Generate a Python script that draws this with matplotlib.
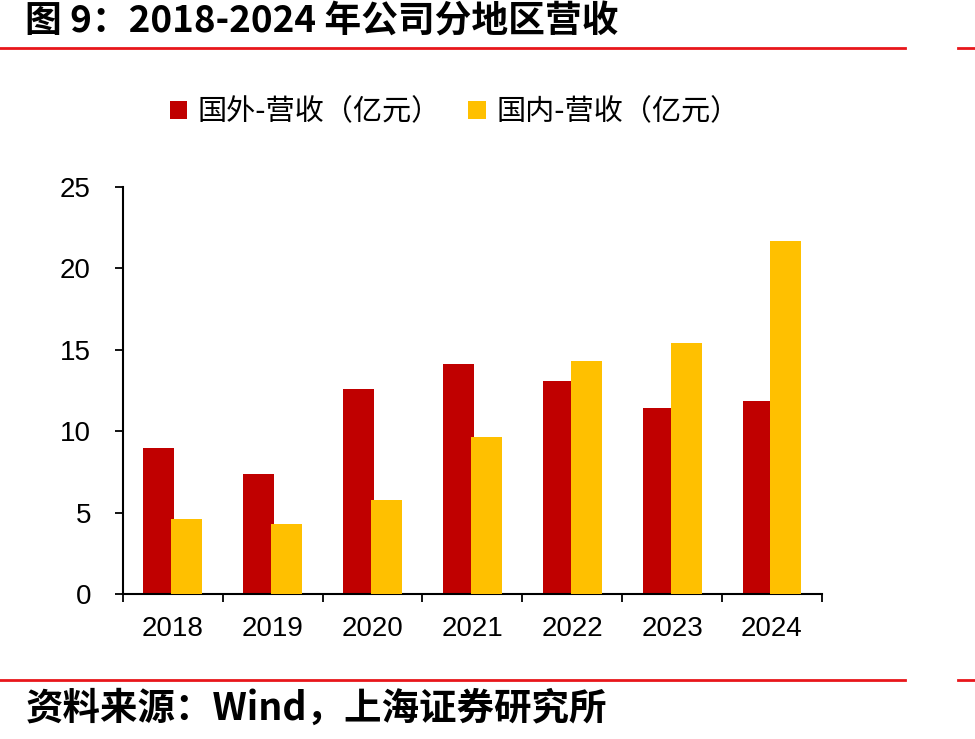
import numpy as np
import matplotlib
matplotlib.use("Agg")
import matplotlib.pyplot as plt
from matplotlib.lines import Line2D
from matplotlib.patches import Patch

plt.rcParams['font.family'] = ['Noto Sans CJK SC', 'DejaVu Sans']

# Data
years = ['2018', '2019', '2020', '2021', '2022', '2023', '2024']
overseas = [8.99, 7.39, 12.58, 14.13, 13.07, 11.42, 11.87]
domestic = [4.62, 4.31, 5.78, 9.64, 14.30, 15.40, 21.71]
series_names = ['国外-营收（亿元）', '国内-营收（亿元）']
title_text = '图 9：2018-2024 年公司分地区营收'
source_text = '资料来源：Wind，上海证券研究所'

red = '#C00000'
yellow = '#FFC000'
line_red = '#E8161B'

fig = plt.figure(figsize=(9.75, 7.39), dpi=100)
ax = fig.add_axes([0.126, 0.196, 0.717, 0.551])

x = np.arange(len(years))
ax.bar(x - 0.14, overseas, width=0.31, color=red, zorder=2)
ax.bar(x + 0.14, domestic, width=0.31, color=yellow, zorder=3)

ax.set_xlim(-0.5, len(years) - 0.5)
ax.set_ylim(0, 25)
ax.set_yticks(range(0, 26, 5))

# tick labels in Arial-like font
tick_font = 'Liberation Sans'
ax.set_xticks(x)
ax.set_xticklabels(years, fontsize=20, family=tick_font)
ax.set_xticks(np.arange(-0.5, len(years)), minor=True)
ax.tick_params(axis='x', which='major', length=0, pad=16)
ax.tick_params(axis='x', which='minor', length=6, width=1.3, direction='out')
ax.tick_params(axis='y', length=6, width=1.3, direction='out', pad=17)
for lbl in ax.get_yticklabels():
    lbl.set_fontsize(20)
    lbl.set_family(tick_font)

for s in ['top', 'right']:
    ax.spines[s].set_visible(False)
for s in ['left', 'bottom']:
    ax.spines[s].set_linewidth(1.5)
    ax.spines[s].set_color('black')

# legend
handles = [Patch(facecolor=red), Patch(facecolor=yellow)]
fig.legend(handles, series_names, loc='center left', bbox_to_anchor=(0.174, 0.848),
           ncol=2, frameon=False, fontsize=21, handlelength=0.6, handleheight=0.6,
           handletextpad=0.35, columnspacing=0.95, borderaxespad=0, borderpad=0)

# title and footer
fig.text(0.026, 0.970, title_text, fontsize=26.5, fontweight='bold', va='center', ha='left')
fig.add_artist(Line2D([0, 0.928], [0.935, 0.935], color=line_red, lw=2))
fig.add_artist(Line2D([0.983, 1.0], [0.935, 0.935], color=line_red, lw=2))
fig.add_artist(Line2D([0, 0.928], [0.080, 0.080], color=line_red, lw=2))
fig.add_artist(Line2D([0.983, 1.0], [0.080, 0.080], color=line_red, lw=2))
fig.text(0.026, 0.042, source_text, fontsize=27, fontweight='bold', style='italic',
         va='center', ha='left')

fig.savefig('out.png', dpi=100)
